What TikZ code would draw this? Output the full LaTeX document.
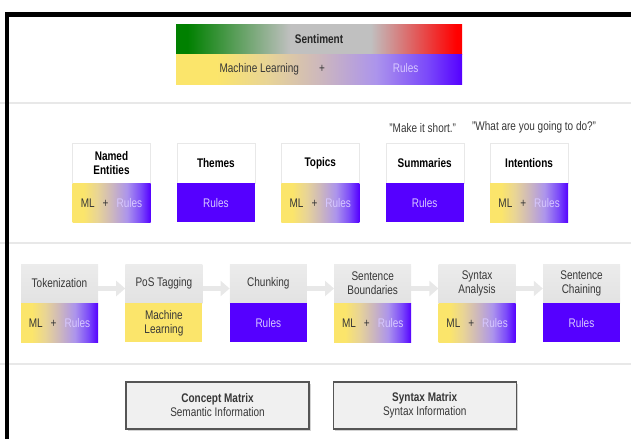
\documentclass[tikz,border=0pt]{standalone}
\usepackage{fontspec}
\setmainfont{Liberation Sans}[FakeStretch=0.8]
\usetikzlibrary{arrows.meta,positioning,shadows}
\definecolor{mlColor}{RGB}{251,229,107}
\definecolor{rulesColor}{RGB}{85,0,255}
\definecolor{tanColor}{RGB}{232,212,150}
\definecolor{mixColor}{RGB}{205,184,188}
\definecolor{lilacColor}{RGB}{172,148,236}
\definecolor{violetColor}{RGB}{122,72,250}
\definecolor{rulesText}{RGB}{215,200,255}
\definecolor{mlText}{RGB}{55,55,55}
\definecolor{posColor}{RGB}{0,128,0}
\definecolor{neutralColor}{RGB}{192,192,192}
\definecolor{negColor}{RGB}{255,0,0}
\definecolor{stepColor}{RGB}{226,226,226}
\definecolor{stepTopColor}{RGB}{236,236,236}
\definecolor{flowColor}{RGB}{232,232,232}
\definecolor{lineColor}{RGB}{232,232,232}
\definecolor{matrixColor}{RGB}{240,240,240}
\definecolor{matrixBorder}{RGB}{85,85,85}
\pgfdeclarehorizontalshading{mlrulesShade}{100bp}{color(0bp)=(mlColor); color(25bp)=(mlColor); color(32bp)=(mlColor); color(41bp)=(tanColor); color(50bp)=(mixColor); color(60bp)=(lilacColor); color(69bp)=(violetColor); color(75bp)=(rulesColor); color(100bp)=(rulesColor)}
\pgfdeclarehorizontalshading{sentimentShade}{100bp}{color(0bp)=(posColor); color(25bp)=(posColor); color(27bp)=(posColor); color(45bp)=(neutralColor); color(59bp)=(neutralColor); color(74bp)=(negColor); color(100bp)=(negColor)}
\tikzset{tophead/.style={draw=lineColor, fill=white, font=\fontsize{12.5}{14}\selectfont\bfseries, align=center, minimum width=78pt, minimum height=40pt, inner sep=1pt}}
\tikzset{stephead/.style={top color=stepTopColor, bottom color=stepColor, text=mlText, align=center, minimum width=77pt, minimum height=39pt, inner sep=1pt}}
\tikzset{bodybox/.style={text=mlText, align=center, minimum width=78pt, minimum height=39pt, inner sep=1pt}}
\tikzset{mlrules/.style={bodybox, shading=mlrulesShade}}
\tikzset{rules/.style={bodybox, fill=rulesColor, text=rulesText}}
\tikzset{mlonly/.style={bodybox, fill=mlColor}}
\tikzset{quote/.style={text=mlText, inner sep=1pt}}
\tikzset{matrixbox/.style={draw=matrixBorder, line width=1.2pt, fill=matrixColor, text=mlText, align=center, minimum width=183pt, minimum height=47pt, drop shadow={shadow xshift=2pt, shadow yshift=-2pt, opacity=0.35}}}
\tikzset{stepflow/.style={draw=flowColor, line width=5pt, -{Triangle[length=9pt, width=15pt]}}}
\tikzset{sepline/.style={draw=lineColor, line width=1.5pt}}
\newcommand{\mlplus}{ML\hspace{8pt}+\hspace{8pt}{\color{rulesText}Rules}}

\begin{document}
\begin{tikzpicture}[x=1pt, y=-1pt, node distance=0pt and 26pt, font=\fontsize{12.5}{14}\selectfont]
	\useasboundingbox (0,0) rectangle (631,439);

	% Frame
	\draw [sepline] (0,103) -- (631,103);
	\draw [sepline] (0,243) -- (631,243);
	\draw [sepline] (0,364) -- (631,364);
	\draw [line width=5pt] (5,14.5) -- (631,14.5);
	\draw [line width=4pt] (7,12) -- (7,439);

	% Sentiment
	\node (sentiment) [bodybox, shading=sentimentShade, minimum width=286pt, minimum height=30pt, font=\fontsize{12.5}{14}\selectfont\bfseries, text=black!85] at (319,39) {Sentiment};
	\node (method) [mlrules, minimum width=286pt, minimum height=30pt, below=of sentiment] {Machine Learning\hspace{20pt}+\hspace{68pt}{\color{rulesText}Rules}};

	% Extraction
	\node (entitieshead) [tophead] at (111.5,163) {Named\\Entities};
	\node (entitiesbody) [mlrules, below=of entitieshead] {\mlplus};
	\node (themeshead) [tophead, right=of entitieshead] {Themes};
	\node (themesbody) [rules, below=of themeshead] {Rules};
	\node (topicshead) [tophead, right=of themeshead] {Topics};
	\node (topicsbody) [mlrules, below=of topicshead] {\mlplus};
	\node (summarieshead) [tophead, right=of topicshead] {Summaries};
	\node (summariesbody) [rules, below=of summarieshead] {Rules};
	\node (intentionshead) [tophead, right=of summarieshead] {Intentions};
	\node (intentionsbody) [mlrules, below=of intentionshead] {\mlplus};

	\node (shortquote) [quote, above=9pt of summarieshead, xshift=-2pt] {"Make it short."};
	\node (intentquote) [quote, above=9pt of intentionshead, xshift=5pt] {"What are you going to do?"};

	% Pipeline
	\node (tokenhead) [stephead] at (59.5,283.5) {Tokenization};
	\node (tokenbody) [mlrules, minimum width=77pt, below=of tokenhead] {\mlplus};
	\node (poshead) [stephead, right=27pt of tokenhead] {PoS Tagging};
	\node (posbody) [mlonly, minimum width=77pt, below=of poshead] {Machine\\Learning};
	\node (chunkhead) [stephead, right=27pt of poshead] {Chunking};
	\node (chunkbody) [rules, minimum width=77pt, below=of chunkhead] {Rules};
	\node (boundaryhead) [stephead, right=27pt of chunkhead] {Sentence\\Boundaries};
	\node (boundarybody) [mlrules, minimum width=77pt, below=of boundaryhead] {\mlplus};
	\node (syntaxhead) [stephead, right=27pt of boundaryhead] {Syntax\\Analysis};
	\node (syntaxbody) [mlrules, minimum width=77pt, below=of syntaxhead] {\mlplus};
	\node (chaininghead) [stephead, right=27pt of syntaxhead] {Sentence\\Chaining};
	\node (chainingbody) [rules, minimum width=77pt, below=of chaininghead] {Rules};

	% Matrices
	\node (conceptmatrix) [matrixbox] at (217.5,405.5) {\textbf{Concept Matrix}\\Semantic Information};
	\node (syntaxmatrix) [matrixbox, right=23pt of conceptmatrix] {\textbf{Syntax Matrix}\\Syntax Information};

	% Connectors
	\draw [stepflow] ([yshift=-5pt]tokenhead.east) -- ([yshift=-5pt]poshead.west);
	\draw [stepflow] ([yshift=-5pt]poshead.east) -- ([yshift=-5pt]chunkhead.west);
	\draw [stepflow] ([yshift=-5pt]chunkhead.east) -- ([yshift=-5pt]boundaryhead.west);
	\draw [stepflow] ([yshift=-5pt]boundaryhead.east) -- ([yshift=-5pt]syntaxhead.west);
	\draw [stepflow] ([yshift=-5pt]syntaxhead.east) -- ([yshift=-5pt]chaininghead.west);

\end{tikzpicture}
\end{document}
